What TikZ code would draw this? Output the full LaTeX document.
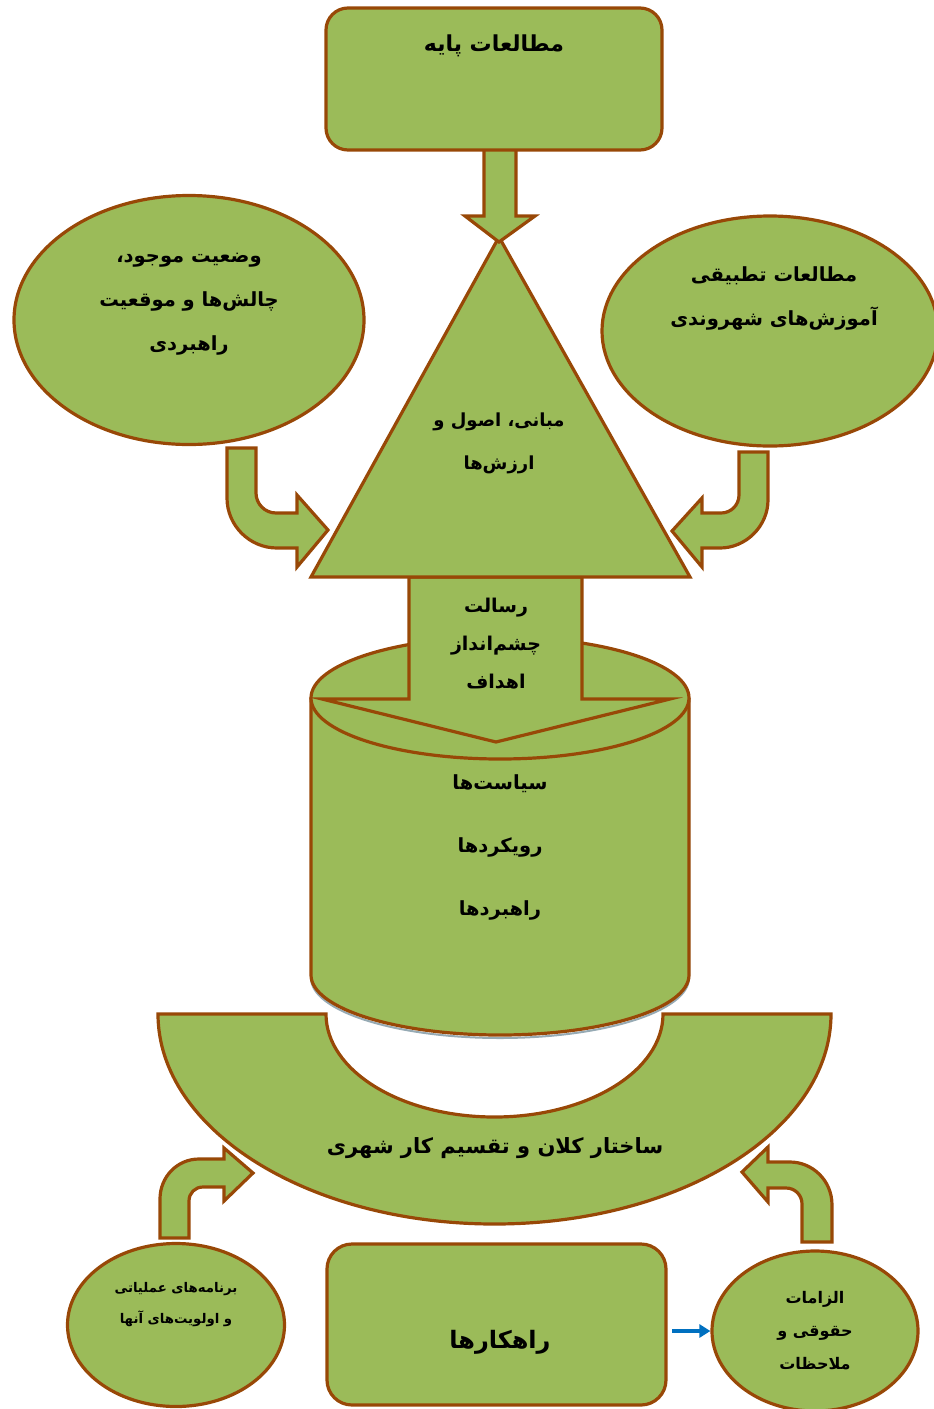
\documentclass[tikz,border=0pt]{standalone}
\usepackage{fontspec}
\usetikzlibrary{shapes.geometric,arrows.meta}
\newfontfamily\arabicfont[Script=Arabic]{DejaVu Sans}
\TeXXeTstate=1
\definecolor{fillg}{RGB}{155,187,89}
\definecolor{edgeb}{RGB}{152,72,7}
\definecolor{arrblue}{RGB}{0,112,192}
\definecolor{shadowgray}{RGB}{150,170,180}
\newcommand{\ar}[1]{\beginR #1\endR}
\begin{document}
\begin{tikzpicture}[x=1pt,y=-1pt,
  shp/.style={fill=fillg,draw=edgeb,line width=3.2pt,line join=miter},
  lbl/.style={align=center,inner sep=0pt,text=black},
  fs/.style n args={2}{font={\arabicfont\bfseries\fontsize{#1}{#2}\selectfont}},
  ell/.style={shp,ellipse,inner sep=0pt},
  rbox/.style={shp,rectangle,inner sep=0pt},
  bluearrow/.style={draw=arrblue,line width=4pt,-{Triangle[length=11pt,width=13pt]}}]
\useasboundingbox (0,0) rectangle (934,1409);
\clip (0,0) rectangle (934,1409);

% ---------- side ellipses (top) ----------
\node[ell,minimum width=350pt,minimum height=249pt] (ellL) at (189,320) {};
\node[ell,minimum width=336pt,minimum height=230pt] (ellR) at (770,331) {};

% ---------- cylinder ----------
\draw[draw=shadowgray,line width=2pt]
  (311,978) .. controls (311,1011) and (395.6,1038) .. (500,1038)
            .. controls (604.4,1038) and (689,1011) .. (689,978) -- (689,700);
\draw[shp] (311,698) -- (311,975)
  .. controls (311,1008.1) and (395.6,1035) .. (500,1035)
  .. controls (604.4,1035) and (689,1008.1) .. (689,975) -- (689,698);
\node[ell,minimum width=378pt,minimum height=122pt] (cyltop) at (500,698) {};

% ---------- big down arrow into cylinder ----------
\draw[shp] (409,577) -- (582,577) -- (582,699) -- (670,699) -- (496,742)
  -- (322,699) -- (409,699) -- cycle;

% ---------- triangle ----------
\draw[shp] (499,237) -- (690,577) -- (311,577) -- cycle;

% ---------- top arrow ----------
\draw[shp] (484,148) -- (516,148) -- (516,216) -- (535,216) -- (499,242)
  -- (465,216) -- (484,216) -- cycle;

% ---------- top box ----------
\node[rbox,rounded corners=22pt,minimum width=336pt,minimum height=142pt] (topbox) at (494,79) {};

% ---------- bent arrows to triangle ----------
\draw[shp] (227,448) -- (256,448) -- (256,493)
  .. controls (256,504) and (265,513) .. (276,513) -- (297,513) -- (297,495)
  -- (328,530) -- (297,567) -- (297,548) -- (277,548)
  .. controls (249.5,548) and (227,525.5) .. (227,498) -- cycle;
\draw[shp] (768,452) -- (739,452) -- (739,495)
  .. controls (739,505) and (731,513) .. (721,513) -- (702,513) -- (702,498)
  -- (672,531) -- (702,567) -- (702,548) -- (720,548)
  .. controls (746,548) and (768,526) .. (768,500) -- cycle;

% ---------- block arc ----------
\draw[shp] (158,1014) -- (326,1014)
  .. controls (326,1070.9) and (401.4,1117) .. (494.5,1117)
  .. controls (587.6,1117) and (663,1070.9) .. (663,1014)
  -- (831,1014)
  .. controls (831,1130) and (680.3,1224) .. (494.5,1224)
  .. controls (308.7,1224) and (158,1130) .. (158,1014) -- cycle;

% ---------- bottom bent arrows ----------
\draw[shp] (160,1238) -- (160,1199) .. controls (160,1177) and (177,1159) .. (199,1159)
  -- (224,1159) -- (224,1148) -- (253,1173) -- (224,1201) -- (224,1187) -- (203,1187)
  .. controls (195,1187) and (189,1193) .. (189,1201) -- (189,1238) -- cycle;
\draw[shp] (832,1242) -- (832,1205) .. controls (832,1180) and (812,1162) .. (790,1162)
  -- (768,1162) -- (768,1147) -- (742,1172) -- (768,1202) -- (768,1188) -- (786,1188)
  .. controls (795,1188) and (802,1195) .. (802,1204) -- (802,1242) -- cycle;

% ---------- bottom shapes ----------
\node[ell,minimum width=217pt,minimum height=163pt] (ellBL) at (176,1325) {};
\node[rbox,rounded corners=25pt,minimum width=339pt,minimum height=161pt] (botbox) at (496.5,1324.5) {};
\node[ell,minimum width=206pt,minimum height=160pt] (ellBR) at (815,1331) {};
\coordinate (bluestart) at (672,1331);
\draw[bluearrow] (bluestart) -- (ellBR.west);

% ---------- texts ----------
\node[lbl,fs={22}{44}] (t1) at (494,46) {\ar{مطالعات پایه}};
\node[lbl,fs={19.5}{44}] (t2) at (189,304) {\ar{وضعیت موجود،}\\\ar{چالش^^^^200cها و موقعیت}\\\ar{راهبردی}};
\node[lbl,fs={19.5}{44}] (t3) at (774,298) {\ar{مطالعات تطبیقی}\\\ar{آموزش^^^^200cهای شهروندی}};
\node[lbl,fs={18}{43}] (t4) at (499,443) {\ar{مبانی، اصول و}\\\ar{ارزش^^^^200cها}};
\node[lbl,fs={19}{38}] (t5) at (496,644) {\ar{رسالت}\\\ar{چشم^^^^200cانداز}\\\ar{اهداف}};
\node[lbl,fs={19.5}{63}] (t6) at (500,847) {\ar{سیاست^^^^200cها}\\\ar{رویکردها}\\\ar{راهبردها}};
\node[lbl,fs={21}{30}] (t7) at (495,1148) {\ar{ساختار کلان و تقسیم کار شهری}};
\node[lbl,fs={13.3}{31}] (t8) at (176,1305) {\ar{برنامه^^^^200cهای عملیاتی}\\\ar{و اولویت^^^^200cهای آنها}};
\node[lbl,fs={24}{30}] (t9) at (500,1342) {\ar{راهکارها}};
\node[lbl,fs={16}{33}] (t10) at (815,1331) {\ar{الزامات}\\\ar{حقوقی و}\\\ar{ملاحظات}};
\end{tikzpicture}
\end{document}
